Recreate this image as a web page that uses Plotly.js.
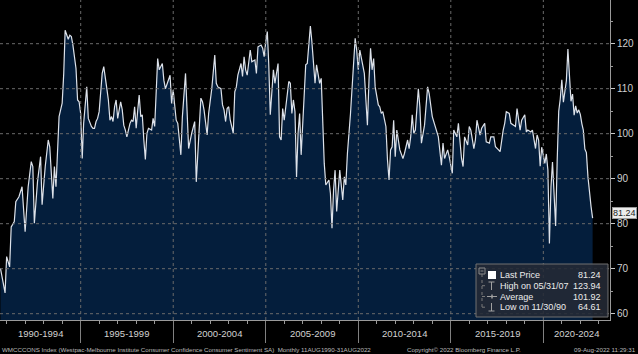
<!DOCTYPE html>
<html>
<head>
<meta charset="utf-8">
<script src="https://cdn.plot.ly/plotly-3.0.1.min.js"></script>
<style>
html,body{margin:0;padding:0;background:#000;}
#chart{width:638px;height:354px;}
</style>
</head>
<body>
<div id="chart"></div>
<script>
// ---- data (monthly; Bloomberg month-end dates) ----
const months = [
"1990-08","1990-11","1990-12","1991-02","1991-03","1991-05","1991-06","1991-08","1991-10","1991-11","1991-12",
"1992-02","1992-04","1992-05","1992-06","1992-08","1992-10","1992-11",
"1993-01","1993-03","1993-04","1993-06","1993-07","1993-08","1993-10","1993-12",
"1994-01","1994-02","1994-03","1994-04","1994-05","1994-06","1994-07","1994-08","1994-09","1994-10","1994-11","1994-12",
"1995-01","1995-02","1995-03","1995-04","1995-05","1995-06","1995-07","1995-08","1995-09","1995-10","1995-11","1995-12",
"1996-01","1996-02","1996-03","1996-04","1996-05","1996-06","1996-07","1996-08","1996-09","1996-10","1996-11","1996-12",
"1997-01","1997-02","1997-03","1997-04","1997-05","1997-06","1997-07","1997-08","1997-09","1997-10","1997-11","1997-12",
"1998-01","1998-02","1998-03","1998-04","1998-05","1998-06","1998-07","1998-08","1998-10","1998-11","1998-12",
"1999-01","1999-02","1999-03","1999-05","1999-06","1999-07","1999-09","1999-10","1999-11","1999-12",
"2000-02","2000-03","2000-05","2000-06","2000-08","2000-09","2000-10","2000-12",
"2001-02","2001-03","2001-04","2001-06","2001-07","2001-08","2001-10","2001-11",
"2002-01","2002-02","2002-03","2002-04","2002-05","2002-07","2002-08","2002-09","2002-10","2002-11","2002-12",
"2003-01","2003-03","2003-04","2003-05","2003-06","2003-08","2003-09","2003-10","2003-11","2003-12",
"2004-02","2004-03","2004-05","2004-06","2004-07","2004-09","2004-10","2004-11","2004-12",
"2005-01","2005-02","2005-03","2005-05","2005-06","2005-08","2005-09","2005-10","2005-11","2005-12",
"2006-02","2006-03","2006-04","2006-05","2006-06","2006-07","2006-08","2006-09","2006-10","2006-11",
"2007-01","2007-02","2007-03","2007-05","2007-06","2007-07","2007-08","2007-09","2007-10","2007-11","2007-12",
"2008-01","2008-02","2008-03","2008-05","2008-06","2008-07","2008-08","2008-09","2008-10","2008-12",
"2009-02","2009-03","2009-04","2009-05","2009-07","2009-08","2009-09","2009-10","2009-11","2009-12",
"2010-01","2010-02","2010-04","2010-05","2010-06","2010-07","2010-08","2010-09","2010-10","2010-11",
"2011-01","2011-02","2011-03","2011-04","2011-06","2011-07","2011-08","2011-09","2011-10","2011-11","2011-12",
"2012-01","2012-03","2012-05","2012-06","2012-08","2012-09","2012-10","2012-11","2012-12",
"2013-01","2013-03","2013-04","2013-05","2013-07","2013-09","2013-10","2013-12",
"2014-03","2014-04","2014-06","2014-07","2014-08","2014-10","2014-11",
"2015-01","2015-02","2015-04","2015-05","2015-07","2015-08","2015-09","2015-11","2015-12",
"2016-01","2016-03","2016-04","2016-05","2016-07","2016-08","2016-10","2016-11",
"2017-01","2017-02","2017-04","2017-05","2017-07","2017-08","2017-10","2017-11","2017-12",
"2018-02","2018-03","2018-05","2018-06","2018-07","2018-09","2018-10","2018-12",
"2019-01","2019-02","2019-04","2019-05","2019-07","2019-08","2019-09","2019-10","2019-11","2019-12",
"2020-01","2020-02","2020-03","2020-04","2020-05","2020-06","2020-07","2020-08","2020-09","2020-10","2020-11","2020-12",
"2021-01","2021-02","2021-03","2021-04","2021-05","2021-06","2021-07","2021-08","2021-09","2021-10","2021-11","2021-12",
"2022-01","2022-02","2022-03","2022-04","2022-05","2022-06","2022-07","2022-08"
];
const sentiment = [
70.1,64.61,72.7,70.4,79.3,80.5,84.9,86.0,88.2,82.3,78.2,
88.2,93.8,92.7,80.1,89.3,94.9,84.2,
92.7,98.6,97.1,85.6,92.7,88.2,103.8,106.8,
113.4,123.0,121.9,121.0,121.9,121.6,119.7,116.4,114.5,107.5,107.1,104.5,
94.5,102.3,106.0,110.4,103.4,102.3,101.6,101.2,101.2,102.7,103.4,104.9,
109.0,113.4,114.9,111.9,110.0,107.5,103.0,103.8,102.7,106.0,107.5,103.4,
105.3,107.1,105.3,101.9,100.8,99.3,100.8,102.3,103.0,102.7,106.0,101.2,
105.3,108.6,103.8,104.2,98.6,94.3,100.1,101.2,100.8,103.4,101.6,
110.4,116.7,114.2,115.6,111.9,110.0,112.0,113.0,106.7,109.7,
103.0,102.3,95.3,103.8,113.4,103.0,96.7,100.1,
102.7,89.3,94.9,107.9,107.1,105.3,99.7,104.5,
110.0,113.4,117.5,111.2,110.4,110.0,106.4,105.3,102.7,105.6,106.0,
103.0,100.1,109.3,110.4,113.0,115.6,112.7,117.1,114.2,113.0,
118.6,116.0,116.4,113.4,119.3,119.7,119.0,117.1,120.4,
122.7,115.6,104.2,114.2,111.2,115.6,99.3,98.6,105.6,103.0,
107.9,111.6,111.2,104.5,107.5,104.9,90.4,100.1,104.5,95.3,
109.0,115.3,115.6,123.94,120.4,115.6,111.2,115.3,112.7,111.2,112.3,
101.6,93.4,88.6,89.7,86.7,79.0,87.5,91.9,82.7,91.9,
85.3,90.4,88.6,95.6,104.5,110.0,116.4,121.2,118.6,114.2,
118.6,116.7,113.4,107.5,101.9,111.9,119.0,114.2,116.7,110.4,
106.4,106.0,104.5,104.9,101.6,94.2,89.7,96.4,97.1,103.0,94.9,
100.8,96.4,94.5,95.6,98.6,96.7,99.3,104.2,100.1,
100.8,110.0,106.0,97.9,101.9,110.4,108.9,103.8,
100.1,99.3,93.0,97.9,94.5,96.4,94.9,
91.2,100.8,99.3,102.3,94.5,92.7,99.3,97.5,101.6,
100.8,96.7,98.6,103.0,99.7,101.2,102.3,98.2,
97.9,99.3,99.3,97.1,96.4,96.0,100.8,102.3,104.9,
104.5,102.3,101.9,101.6,105.6,100.8,103.0,104.2,
100.4,100.8,100.4,100.8,96.7,99.7,98.6,92.8,97.0,95.1,
93.4,95.5,91.9,75.6,88.1,93.7,87.9,79.5,93.8,105.0,107.7,112.0,
107.0,109.1,111.8,118.8,113.1,107.2,108.8,104.1,106.2,104.6,105.3,104.3,
102.2,100.8,96.6,95.8,90.4,86.4,83.8,81.24
];
const statNames = ["Last Price","High on 05/31/07","Average","Low on 11/30/90"];
const statValues = ["81.24","123.94","101.92","64.61"];
const periodStarts = [1990,1995,2000,2005,2010,2015,2020];
const periodLabels = ["1990-1994","1995-1999","2000-2004","2005-2009","2010-2014","2015-2019","2020-2024"];
const yTicks = [60,70,80,90,100,110,120];
const footerLeft = "WMCCCONS Index (Westpac-Melbourne Institute Consumer Confidence Consumer Sentiment SA)  Monthly 11AUG1990-31AUG2022";
const footerMid = "Copyright\u00A9 2022 Bloomberg Finance L.P.";
const footerRight = "09-Aug-2022 11:29:31";

// ---- helpers ----
function monthEnd(s){
  const y = +s.slice(0,4), m = +s.slice(5,7);
  return new Date(Date.UTC(y, m, 0)).toISOString().slice(0,10);
}
const dates = months.map(monthEnd);
const X0 = "1990-08-22", X1 = "2023-08-09";
const PW = 610, PH = 320;           // plot area size in px
const px = x => x / PW;             // pixel -> paper
const py = y => (PH - y) / PH;
const FONT = "Liberation Sans, Arial, sans-serif";

const shapes = [];
const annotations = [];

// gridlines above the area fill
yTicks.forEach(v => shapes.push({type:"line", xref:"paper", yref:"y", x0:0, x1:1, y0:v, y1:v,
  line:{color:"#6a6a6a", width:1, dash:"dot"}, layer:"above"}));
periodStarts.slice(1).forEach(yr => shapes.push({type:"line", xref:"x", yref:"paper",
  x0:yr+"-01-01", x1:yr+"-01-01", y0:0, y1:1, line:{color:"#6a6a6a", width:1, dash:"dot"}, layer:"above"}));

// period labels centered in visible part of each 5-year band
const t0 = Date.parse(X0), t1 = Date.parse(X1);
periodStarts.forEach((yr, i) => {
  const a = Math.max(Date.UTC(yr,0,1), t0), b = Math.min(Date.UTC(yr+5,0,1), t1);
  annotations.push({xref:"x", yref:"paper", x:new Date((a+b)/2).toISOString().slice(0,10),
    y:py(333), yanchor:"middle", xanchor:"center", showarrow:false, text:periodLabels[i],
    font:{family:FONT, size:9.5, color:"#d2d2d2"}});
});

// footer
annotations.push({xref:"paper", yref:"paper", x:0, xanchor:"left", y:py(349), yanchor:"middle",
  showarrow:false, text:footerLeft, font:{family:FONT, size:6.2, color:"#bdbdbd"}});
annotations.push({xref:"paper", yref:"paper", x:px(464), xanchor:"center", y:py(349), yanchor:"middle",
  showarrow:false, text:footerMid, font:{family:FONT, size:6.2, color:"#bdbdbd"}});
annotations.push({xref:"paper", yref:"paper", x:px(638), xanchor:"right", y:py(349), yanchor:"middle",
  showarrow:false, text:footerRight, font:{family:FONT, size:6.2, color:"#bdbdbd"}});

// last price tag on the right axis
annotations.push({xref:"paper", yref:"y", x:1, xanchor:"left", xshift:2, yshift:5,
  y:sentiment[sentiment.length-1], yanchor:"middle", showarrow:false,
  text:sentiment[sentiment.length-1].toFixed(2),
  bgcolor:"#ececec", bordercolor:"#9a9a9a", borderwidth:1, borderpad:0,
  font:{family:FONT, size:9, color:"#1a1a1a"}});

// legend box
shapes.push({type:"rect", xref:"paper", yref:"paper", x0:px(476), x1:px(608), y0:py(317), y1:py(264),
  fillcolor:"rgba(36,42,54,0.88)", line:{color:"#707070", width:1}, layer:"above"});
const rowY = [275, 285.7, 296.5, 307.2];
// tree icon
shapes.push({type:"rect", xref:"paper", yref:"paper", x0:px(479), x1:px(485), y0:py(274), y1:py(268),
  line:{color:"#8a8a8a", width:1}, layer:"above"});
shapes.push({type:"line", xref:"paper", yref:"paper", x0:px(480.5), x1:px(483.5), y0:py(271), y1:py(271),
  line:{color:"#8a8a8a", width:1}, layer:"above"});
shapes.push({type:"line", xref:"paper", yref:"paper", x0:px(482), x1:px(482), y0:py(274), y1:py(rowY[3]),
  line:{color:"#7a7a7a", width:1, dash:"dot"}, layer:"above"});
rowY.slice(1).forEach(y => shapes.push({type:"line", xref:"paper", yref:"paper", x0:px(482), x1:px(487),
  y0:py(y), y1:py(y), line:{color:"#7a7a7a", width:1, dash:"dot"}, layer:"above"}));
shapes.push({type:"rect", xref:"paper", yref:"paper", x0:px(488), x1:px(496), y0:py(279), y1:py(271),
  fillcolor:"#ffffff", line:{color:"#ffffff", width:0}, layer:"above"});
// high icon (T)
shapes.push({type:"line", xref:"paper", yref:"paper", x0:px(488.5), x1:px(494.5), y0:py(282), y1:py(282),
  line:{color:"#a0a0a0", width:1}, layer:"above"});
shapes.push({type:"line", xref:"paper", yref:"paper", x0:px(491.5), x1:px(491.5), y0:py(282), y1:py(290),
  line:{color:"#a0a0a0", width:1}, layer:"above"});
// average icon
shapes.push({type:"line", xref:"paper", yref:"paper", x0:px(487), x1:px(497), y0:py(rowY[2]), y1:py(rowY[2]),
  line:{color:"#a0a0a0", width:1}, layer:"above"});
shapes.push({type:"line", xref:"paper", yref:"paper", x0:px(492), x1:px(492), y0:py(rowY[2]-2), y1:py(rowY[2]+2),
  line:{color:"#a0a0a0", width:1.5}, layer:"above"});
// low icon (inverted T)
shapes.push({type:"line", xref:"paper", yref:"paper", x0:px(491.5), x1:px(491.5), y0:py(303), y1:py(311),
  line:{color:"#a0a0a0", width:1}, layer:"above"});
shapes.push({type:"line", xref:"paper", yref:"paper", x0:px(488.5), x1:px(494.5), y0:py(311), y1:py(311),
  line:{color:"#a0a0a0", width:1}, layer:"above"});
statNames.forEach((n, i) => {
  annotations.push({xref:"paper", yref:"paper", x:px(498), xanchor:"left", y:py(rowY[i]), yanchor:"middle",
    showarrow:false, text:n, font:{family:FONT, size:9, color:"#ececec"}});
  annotations.push({xref:"paper", yref:"paper", x:px(603), xanchor:"right", y:py(rowY[i]), yanchor:"middle",
    showarrow:false, text:statValues[i], font:{family:FONT, size:9, color:"#ececec"}});
});

const trace = {
  type:"scatter", mode:"lines", x:dates, y:sentiment,
  fill:"tozeroy", fillcolor:"#041e3c",
  line:{color:"#dde2ea", width:1.2}, hoverinfo:"skip"
};

const layout = {
  width:638, height:354,
  margin:{l:0, r:28, t:0, b:34, pad:0},
  paper_bgcolor:"#000", plot_bgcolor:"#000",
  showlegend:false,
  font:{family:FONT, color:"#cfcfcf"},
  xaxis:{
    type:"date", range:[X0, X1], showgrid:false, zeroline:false,
    showline:true, linecolor:"#9a9a9a", linewidth:1,
    ticks:"outside", ticklen:22, tickcolor:"#808080", tickwidth:1,
    tick0:"1995-01-01", dtick:"M60", showticklabels:false,
    minor:{ticks:"outside", ticklen:3, tickcolor:"#9a9a9a", dtick:"M12", tick0:"1991-01-01", showgrid:false},
    fixedrange:true
  },
  yaxis:{
    side:"right", range:[58.6, 129.71], showgrid:false, zeroline:false,
    tickvals:yTicks, ticks:"outside", ticklen:4, tickcolor:"#c8c8c8",
    showline:true, linecolor:"#9a9a9a", linewidth:1,
    tickfont:{family:FONT, size:10, color:"#cfcfcf"},
    minor:{ticks:"outside", ticklen:2, tickcolor:"#9a9a9a", dtick:5, tick0:60, showgrid:false},
    fixedrange:true
  },
  shapes:shapes,
  annotations:annotations
};

Plotly.newPlot("chart", [trace], layout, {displayModeBar:false, staticPlot:true});
</script>
</body>
</html>
